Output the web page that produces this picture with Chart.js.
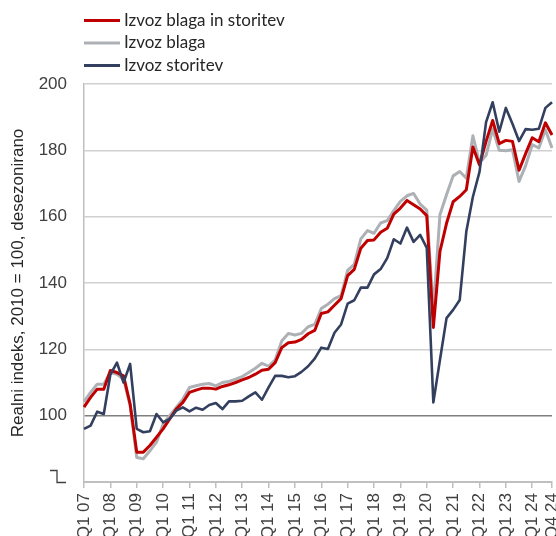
<!doctype html>
<html>
<head>
<meta charset="utf-8" />
<title>Izvoz blaga in storitev</title>
<style>
	html, body { margin: 0; padding: 0; background: #ffffff; overflow: hidden; }
	canvas { display: block; }
</style>
<script src="https://cdn.jsdelivr.net/npm/chart.js@4.4.1/dist/chart.umd.min.js"></script>
<script>

var years = ['07','08','09','10','11','12','13','14','15','16','17','18','19','20','21','22','23','24'];
var quarters = ['Q1','Q2','Q3','Q4'];

var seriesNames = ['Izvoz blaga in storitev', 'Izvoz blaga', 'Izvoz storitev'];

// realni indeks, 2010 = 100, desezonirano (Q1 07 ... Q4 24)
var izvozSkupaj = [
	102.6, 105.5, 108.0, 108.0, 113.6, 113.0, 112.0, 103.5,
	 89.0,  89.0,  91.0,  93.5,  96.0,  99.0, 102.0, 104.0,
	107.0, 107.7, 108.3, 108.3, 108.0, 108.8, 109.3, 110.0,
	110.8, 111.5, 112.5, 113.7, 114.0, 116.0, 120.5, 122.0,
	122.2, 123.0, 124.7, 125.7, 130.8, 131.3, 133.3, 135.3,
	142.2, 144.1, 150.5, 152.8, 153.0, 155.3, 156.5, 160.8,
	162.6, 164.9, 163.6, 162.3, 160.3, 126.6, 149.5, 158.0,
	164.5, 166.1, 168.1, 181.0, 175.6, 182.7, 189.0, 182.0,
	183.0, 182.7, 174.0, 179.0, 183.8, 182.6, 188.3, 184.6
];

var izvozBlaga = [
	104.2, 107.0, 109.5, 109.5, 113.0, 112.5, 111.0, 103.0,
	 87.4,  87.0,  89.4,  92.0,  97.5, 100.0, 102.5, 105.0,
	108.5, 109.0, 109.5, 109.7, 109.0, 110.0, 110.3, 111.0,
	111.8, 113.0, 114.3, 115.8, 114.9, 116.8, 122.5, 124.8,
	124.3, 124.8, 126.8, 127.5, 132.3, 133.6, 135.3, 136.2,
	143.8, 145.6, 153.3, 155.8, 155.0, 158.1, 158.8, 161.8,
	164.6, 166.3, 167.0, 163.8, 162.0, 131.5, 160.6, 166.6,
	172.3, 173.6, 171.6, 184.4, 176.2, 178.5, 186.4, 180.0,
	179.9, 180.2, 170.6, 175.4, 181.7, 180.7, 186.2, 180.7
];

var izvozStoritev = [
	 96.0,  97.0, 101.2, 100.5, 112.4, 116.0, 110.0, 115.6,
	 96.0,  95.0,  95.3, 100.5,  98.0,  99.0, 101.5, 102.5,
	101.3, 102.4, 101.8, 103.2, 103.8, 102.0, 104.3, 104.3,
	104.5, 105.8, 107.0, 104.8, 108.5, 112.0, 112.0, 111.6,
	111.9, 113.2, 114.9, 117.2, 120.5, 120.1, 125.0, 127.5,
	133.8, 134.8, 138.6, 138.6, 142.6, 144.2, 147.5, 153.2,
	151.9, 156.7, 152.4, 154.5, 150.6, 104.0, 116.8, 129.4,
	131.9, 134.9, 155.5, 166.0, 173.5, 188.5, 194.5, 185.6,
	192.8, 188.0, 182.8, 186.4, 186.2, 186.5, 192.8, 194.5
];

var yMin = 80;
var yMax = 200;
var yStep = 20;

var colors = ['#c00000', '#adb1b5', '#333f5e'];

var legendPlugin = {
	id: 'sideLegend',
	afterDraw: function(chart) {
		var ctx = chart.ctx;
		var rows = [20.5, 43, 65.5];
		ctx.save();
		ctx.font = '17px Lato';
		ctx.textBaseline = 'middle';
		ctx.fillStyle = '#262626';
		for (var i = 0; i < seriesNames.length; i++) {
			ctx.strokeStyle = colors[i];
			ctx.lineWidth = 3;
			ctx.beginPath();
			ctx.moveTo(84, rows[i]);
			ctx.lineTo(120, rows[i]);
			ctx.stroke();
			ctx.fillText(seriesNames[i], 124, rows[i]);
		}
		ctx.restore();
	}
};

var breakPlugin = {
	id: 'axisBreak',
	afterDraw: function(chart) {
		var ctx = chart.ctx;
		var yb = Math.round(chart.scales.y.getPixelForValue(yMin)) + 0.5;
		ctx.save();
		ctx.strokeStyle = '#404040';
		ctx.lineWidth = 1.3;
		ctx.beginPath();
		ctx.moveTo(50, yb - 12);
		ctx.lineTo(57, yb - 12);
		ctx.lineTo(57, yb);
		ctx.lineTo(66, yb);
		ctx.stroke();
		ctx.restore();
	}
};

function init() {

	var labels = [];
	for (var y = 0; y < years.length; y++) {
		for (var q = 0; q < quarters.length; q++) {
			labels.push(quarters[q] + ' ' + years[y]);
		}
	}

	var canvas = document.getElementById('canvas');
	canvas.width = 556;
	canvas.height = 536;

	new Chart(canvas.getContext('2d'), {
		type: 'line',
		data: {
			labels: labels,
			datasets: [
				{ label: seriesNames[0], data: izvozSkupaj, borderColor: colors[0], borderWidth: 3, order: 1 },
				{ label: seriesNames[1], data: izvozBlaga, borderColor: colors[1], borderWidth: 3, order: 2 },
				{ label: seriesNames[2], data: izvozStoritev, borderColor: colors[2], borderWidth: 2.6, order: 0 }
			]
		},
		options: {
			responsive: false,
			animation: false,
			devicePixelRatio: 1,
			layout: { padding: { top: 84, right: 4, left: 0, bottom: 0 } },
			elements: {
				point: { radius: 0 },
				line: { tension: 0, borderJoinStyle: 'round' }
			},
			plugins: {
				legend: { display: false },
				tooltip: { enabled: false }
			},
			scales: {
				x: {
					offset: false,
					grid: { display: true, drawOnChartArea: false, drawTicks: true, tickLength: 6, color: '#bfbfbf', lineWidth: 1.5 },
					border: { display: true, color: '#bfbfbf', width: 2 },
					ticks: {
						autoSkip: false,
						minRotation: 90,
						maxRotation: 90,
						padding: 5,
						color: '#404040',
						font: { family: 'Liberation Sans', size: 17 }
					},
					afterBuildTicks: function(scale) {
						var last = labels.length - 1;
						scale.ticks = scale.ticks.filter(function(t) {
							return t.value % 4 === 0 || t.value === last;
						});
					},
					afterFit: function(scale) {
						scale.height = 54;
						scale.paddingLeft = 0;
						scale.paddingRight = 0;
					}
				},
				y: {
					min: yMin,
					max: yMax,
					grid: {
						drawTicks: false,
						color: function(c) {
							if (c.tick.value === yMin) return 'rgba(0,0,0,0)';
							return c.tick.value === 100 ? '#7f7f7f' : '#d0d0d0';
						},
						lineWidth: 1.5
					},
					border: { display: true, color: '#bfbfbf', width: 1.5 },
					ticks: {
						stepSize: yStep,
						padding: 17,
						color: '#404040',
						font: { family: 'Liberation Sans', size: 17 },
						callback: function(v) { return v === yMin ? '' : v; }
					},
					title: {
						display: true,
						text: 'Realni indeks, 2010 = 100, desezonirano',
						color: '#262626',
						font: { family: 'Liberation Sans', size: 17 },
						padding: { top: 8, bottom: 0 }
					},
					afterFit: function(scale) {
						scale.width = 84;
					}
				}
			}
		},
		plugins: [legendPlugin, breakPlugin]
	});
}

</script>
</head>
<body onload="init();">
	<canvas id="canvas"></canvas>
</body>
</html>
